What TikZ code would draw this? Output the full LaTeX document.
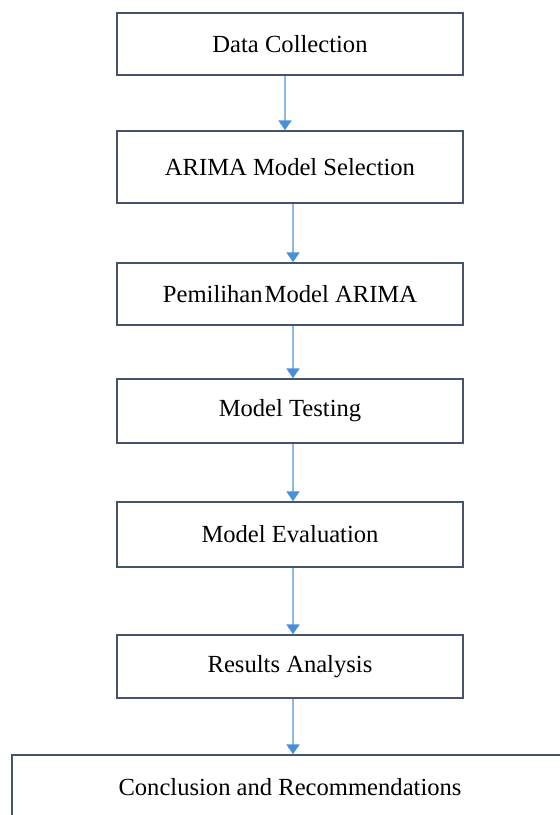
\documentclass[tikz,border=0pt]{standalone}
\usepackage{fontspec}
\setmainfont{Liberation Serif}
\usetikzlibrary{arrows.meta}
\definecolor{boxline}{HTML}{44546A}
\definecolor{shaft}{HTML}{8DB8E0}
\definecolor{tipc}{HTML}{4A90D9}
\tikzset{
  stepbox/.style={draw=boxline, line width=1.5pt, fill=white, minimum width=346pt, inner sep=0pt, anchor=center, font=\fontsize{24.6}{28}\selectfont},
  flow/.style={draw=shaft, line width=2.2pt, -{Triangle[color=tipc, width=13pt, length=10pt]}}
}
\begin{document}
\begin{tikzpicture}[x=1pt, y=-1pt]
\useasboundingbox (0,0) rectangle (560,815);
\clip (0,0) rectangle (560,815);
\node[stepbox, minimum height=62pt] (b1) at (290,44) {Data Collection};
\node[stepbox, minimum height=72pt] (b2) at (290,167) {ARIMA Model Selection};
\node[stepbox, minimum height=62pt] (b3) at (290,294) {Pemilihan\kern2pt Model ARIMA};
\node[stepbox, minimum height=64pt] (b4) at (290,411) {Model Testing};
\node[stepbox, minimum height=65pt] (b5) at (290,534.5) {Model Evaluation};
\node[stepbox, minimum height=63pt] (b6) at (290,666.5) {Results Analysis};
\node[stepbox, minimum width=556pt, minimum height=64pt] (b7) at (290,787) {Conclusion and Recommendations};
\draw[flow] (b1.south -| 285,0) -- (b2.north -| 285,0);
\draw[flow] (b2.south -| 293,0) -- (b3.north -| 293,0);
\draw[flow] (b3.south -| 293,0) -- (b4.north -| 293,0);
\draw[flow] (b4.south -| 293,0) -- (b5.north -| 293,0);
\draw[flow] (b5.south -| 293,0) -- (b6.north -| 293,0);
\draw[flow] (b6.south -| 293,0) -- (b7.north -| 293,0);
\end{tikzpicture}
\end{document}
